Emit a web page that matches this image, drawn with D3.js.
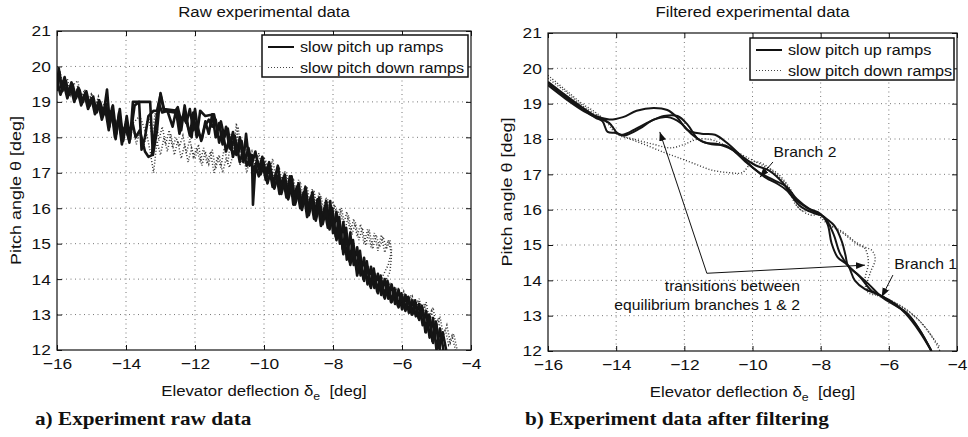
<!DOCTYPE html>
<html>
<head>
<meta charset="utf-8">
<script src="https://cdn.jsdelivr.net/npm/d3@7"></script>
<style>
  body { margin: 0; background: #fff; }
  text { font-family: "Liberation Sans", Arial, sans-serif; fill: #111; }
  text.caption { font-family: "Liberation Serif", "Times New Roman", serif; }
</style>
</head>
<body>
<div id="chart"></div>
<script>
const width = 968;
const height = 437;
const sx = 1.12; // the scanned figure's lettering is a bit wide

const xTicks = [-16, -14, -12, -10, -8, -6, -4];
const yTicks = [12, 13, 14, 15, 16, 17, 18, 19, 20, 21];
const legendLabels = ["slow pitch up ramps", "slow pitch down ramps"];

// raw experimental data, [elevator deflection, pitch angle]
const rawUp1 = [[-16,19.5],[-15.93,19.85],[-15.85,19.3],[-15.75,19.6],[-15.65,19.2],[-15.55,19.5],[-15.45,19.1],[-15.35,19.35],[-15.25,19.0],[-15.15,19.3],[-15.05,18.9],[-14.95,19.15],[-14.85,18.7],[-14.75,19.0],[-14.65,18.65],[-14.55,19.35],[-14.47,18.4],[-14.38,18.9],[-14.28,18.1],[-14.18,18.8],[-14.08,17.9],[-13.98,18.6],[-13.88,17.95],[-13.8,19.0],[-13.3,19.0],[-13.22,17.5],[-13.1,18.2],[-13.0,19.25],[-12.9,18.8],[-12.5,18.75],[-12.4,18.2],[-12.3,18.9],[-12.2,18.3],[-12.1,18.0],[-12.0,18.8],[-11.9,18.1],[-11.8,17.95],[-11.7,18.45],[-11.6,18.1],[-11.5,18.65],[-11.4,18.0],[-11.3,18.4],[-11.2,17.8],[-11.1,18.3],[-11.0,17.7],[-10.9,18.15],[-10.8,17.5],[-10.7,18.0],[-10.6,17.3],[-10.52,18.1],[-10.42,17.2],[-10.35,17.5],[-10.32,16.1],[-10.25,17.2],[-10.15,16.9],[-10.05,17.3],[-9.95,16.8],[-9.85,17.15],[-9.75,16.6],[-9.65,17.0],[-9.55,16.4],[-9.45,16.85],[-9.35,16.3],[-9.25,16.9],[-9.15,16.1],[-9.05,16.6],[-8.95,16.0],[-8.85,16.45],[-8.75,15.75],[-8.65,16.3],[-8.55,15.7],[-8.45,16.25],[-8.35,15.5],[-8.25,16.0],[-8.15,15.45],[-8.08,16.2],[-8.0,15.3],[-7.9,15.9],[-7.8,15.0],[-7.7,15.6],[-7.6,14.55],[-7.5,15.3],[-7.4,14.4],[-7.3,14.9],[-7.2,14.1],[-7.1,14.6],[-7.0,13.85],[-6.9,14.35],[-6.8,13.75],[-6.7,14.15],[-6.6,13.55],[-6.5,14.0],[-6.4,13.45],[-6.3,13.85],[-6.2,13.3],[-6.1,13.7],[-6.0,13.15],[-5.9,13.55],[-5.8,13.05],[-5.7,13.4],[-5.6,12.95],[-5.5,13.3],[-5.4,12.7],[-5.3,13.1],[-5.2,12.35],[-5.1,12.9],[-5.0,12.0],[-4.9,12.6],[-4.8,12.0]];
const rawUp2 = [[-16,19.3],[-15.95,19.95],[-15.88,19.4],[-15.78,19.7],[-15.68,19.25],[-15.58,19.55],[-15.48,19.15],[-15.38,19.4],[-15.28,18.95],[-15.18,19.25],[-15.08,18.85],[-14.98,19.1],[-14.88,18.75],[-14.78,19.05],[-14.68,18.6],[-14.58,18.95],[-14.48,18.3],[-14.4,18.85],[-14.3,17.95],[-14.2,18.7],[-14.1,18.1],[-14.0,18.4],[-13.9,17.85],[-13.75,18.9],[-13.62,19.0],[-13.55,17.65],[-13.45,18.0],[-13.35,18.6],[-13.2,18.75],[-13.1,18.75],[-13.0,19.2],[-12.9,18.75],[-12.6,18.7],[-12.5,18.85],[-12.4,18.45],[-12.3,18.7],[-12.15,18.05],[-12.05,18.7],[-11.95,18.0],[-11.85,18.75],[-11.7,18.6],[-11.45,18.65],[-11.35,18.2],[-11.25,18.45],[-11.15,18.0],[-11.05,18.25],[-10.95,17.65],[-10.85,18.05],[-10.75,17.55],[-10.65,17.9],[-10.55,17.35],[-10.45,17.7],[-10.35,17.25],[-10.25,17.6],[-10.15,17.1],[-10.05,17.45],[-9.95,17.0],[-9.85,17.3],[-9.72,16.7],[-9.6,17.2],[-9.5,16.55],[-9.4,16.95],[-9.3,16.4],[-9.2,16.9],[-9.1,16.25],[-9.0,16.7],[-8.9,16.1],[-8.8,16.6],[-8.7,15.95],[-8.6,16.45],[-8.5,15.8],[-8.4,16.3],[-8.3,15.65],[-8.2,16.2],[-8.1,15.55],[-8.02,16.0],[-7.92,15.2],[-7.82,15.75],[-7.72,14.85],[-7.62,15.45],[-7.52,14.5],[-7.42,15.1],[-7.32,14.3],[-7.22,14.8],[-7.12,14.0],[-7.02,14.5],[-6.92,13.8],[-6.82,14.3],[-6.72,13.65],[-6.62,14.1],[-6.52,13.5],[-6.42,13.95],[-6.32,13.35],[-6.22,13.75],[-6.12,13.25],[-6.02,13.6],[-5.92,13.15],[-5.82,13.5],[-5.72,13.0],[-5.62,13.4],[-5.52,12.9],[-5.42,13.25],[-5.32,12.5],[-5.22,13.0],[-5.12,12.25],[-5.02,12.8],[-4.92,12.05],[-4.82,12.5],[-4.72,12.0]];
const rawUp3 = [[-16,19.6],[-15.9,19.2],[-15.8,19.5],[-15.7,19.1],[-15.6,19.4],[-15.5,19.0],[-15.4,19.3],[-15.3,18.9],[-15.2,19.2],[-15.1,18.8],[-15.0,19.1],[-14.9,18.65],[-14.8,18.95],[-14.7,18.5],[-14.6,18.8],[-14.5,18.2],[-14.42,18.75],[-14.32,18.0],[-14.22,18.55],[-14.12,17.8],[-14.02,18.3],[-13.92,17.95],[-13.82,18.45],[-13.72,18.0],[-13.6,18.2],[-13.45,17.6],[-13.35,17.45],[-13.25,17.5],[-13.15,18.3],[-13.05,18.95],[-12.95,18.7],[-12.8,18.75],[-12.65,18.3],[-12.55,18.75],[-12.45,18.1],[-12.35,18.6],[-12.25,18.4],[-12.15,18.8],[-12.05,18.2],[-11.95,18.4],[-11.82,17.9],[-11.72,18.3],[-11.6,18.5],[-11.5,18.3],[-11.4,18.5],[-11.3,17.85],[-11.2,18.2],[-11.1,17.6],[-11.0,18.0],[-10.9,17.45],[-10.8,17.8],[-10.7,17.3],[-10.6,17.65],[-10.5,17.2],[-10.4,17.45],[-10.3,17.05],[-10.2,17.35],[-10.1,16.95],[-10.0,17.2],[-9.9,16.7],[-9.8,17.05],[-9.7,16.55],[-9.6,16.9],[-9.5,16.4],[-9.4,16.75],[-9.3,16.25],[-9.2,16.6],[-9.1,16.1],[-9.0,16.45],[-8.9,15.95],[-8.8,16.35],[-8.7,15.8],[-8.6,16.2],[-8.5,15.65],[-8.4,16.05],[-8.3,15.55],[-8.2,15.95],[-8.1,15.4],[-8.0,15.75],[-7.9,15.1],[-7.8,15.5],[-7.7,14.7],[-7.6,15.2],[-7.5,14.4],[-7.4,14.85],[-7.3,14.1],[-7.2,14.5],[-7.1,13.95],[-7.0,14.35],[-6.9,13.75],[-6.8,14.15],[-6.7,13.6],[-6.6,13.95],[-6.5,13.45],[-6.4,13.8],[-6.3,13.35],[-6.2,13.65],[-6.1,13.2],[-6.0,13.55],[-5.9,13.1],[-5.8,13.45],[-5.7,13.0],[-5.6,13.3],[-5.5,12.85],[-5.4,13.15],[-5.3,12.5],[-5.2,12.95],[-5.1,12.2],[-5.0,12.7],[-4.9,12.0]];
const rawDown1 = [[-16,19.7],[-15.9,19.3],[-15.8,19.6],[-15.7,19.2],[-15.6,19.5],[-15.5,19.1],[-15.4,19.45],[-15.3,19.0],[-15.2,19.3],[-15.1,18.9],[-15.0,19.2],[-14.9,18.8],[-14.8,19.1],[-14.7,18.7],[-14.6,19.0],[-14.5,18.5],[-14.4,18.9],[-14.3,18.3],[-14.2,18.6],[-14.1,18.0],[-14.0,18.4],[-13.9,17.9],[-13.8,18.3],[-13.7,17.8],[-13.6,18.2],[-13.5,17.7],[-13.4,18.1],[-13.3,17.6],[-13.2,17.0],[-13.1,17.9],[-13.0,17.5],[-12.9,18.0],[-12.8,17.6],[-12.7,18.1],[-12.6,17.5],[-12.5,17.9],[-12.4,17.4],[-12.3,17.8],[-12.2,17.3],[-12.1,17.7],[-12.0,17.4],[-11.9,17.8],[-11.8,17.2],[-11.7,17.6],[-11.6,17.25],[-11.5,17.65],[-11.4,17.1],[-11.3,17.5],[-11.2,17.0],[-11.1,17.4],[-11.0,17.15],[-10.9,17.5],[-10.8,18.4],[-10.7,17.2],[-10.6,17.5],[-10.5,17.0],[-10.4,17.45],[-10.3,17.1],[-10.2,17.5],[-10.1,17.0],[-10.0,17.45],[-9.9,17.0],[-9.8,17.3],[-9.7,16.8],[-9.6,17.2],[-9.5,16.7],[-9.4,17.05],[-9.3,16.55],[-9.2,16.9],[-9.1,16.4],[-9.0,16.8],[-8.9,16.3],[-8.8,16.65],[-8.7,16.1],[-8.6,16.55],[-8.5,16.0],[-8.4,16.45],[-8.3,15.9],[-8.2,16.3],[-8.1,15.8],[-8.0,16.2],[-7.9,15.7],[-7.8,16.0],[-7.7,15.5],[-7.6,15.9],[-7.5,15.3],[-7.4,15.7],[-7.3,15.2],[-7.2,15.55],[-7.1,15.0],[-7.0,15.4],[-6.9,14.9],[-6.8,15.3],[-6.7,14.8],[-6.6,15.25],[-6.5,14.75],[-6.4,15.1],[-6.3,14.7],[-6.35,14.2],[-6.5,13.9],[-6.45,13.6],[-6.3,13.8],[-6.2,13.4],[-6.1,13.75],[-6.0,13.3],[-5.9,13.6],[-5.8,13.2],[-5.7,13.5],[-5.6,13.1],[-5.5,13.45],[-5.4,13.0],[-5.3,13.35],[-5.2,12.8],[-5.1,13.2],[-5.0,12.6],[-4.9,12.95],[-4.8,12.4],[-4.7,12.7],[-4.6,12.2],[-4.5,12.45],[-4.4,12.0]];
const rawDown2 = [[-16,19.5],[-15.9,19.8],[-15.8,19.35],[-15.7,19.65],[-15.6,19.2],[-15.5,19.5],[-15.4,19.6],[-15.3,19.1],[-15.2,19.35],[-15.1,18.95],[-15.0,19.25],[-14.9,18.85],[-14.8,19.15],[-14.7,18.75],[-14.6,19.05],[-14.5,18.6],[-14.4,18.8],[-14.3,18.2],[-14.2,18.7],[-14.1,18.1],[-14.0,18.5],[-13.9,18.0],[-13.8,18.4],[-13.6,18.6],[-13.45,18.2],[-13.35,18.6],[-13.25,18.05],[-13.15,18.7],[-13.05,17.9],[-12.95,18.3],[-12.85,17.8],[-12.75,18.2],[-12.65,17.7],[-12.55,18.0],[-12.45,17.75],[-12.35,18.05],[-12.25,17.55],[-12.15,17.95],[-12.05,17.45],[-11.95,17.7],[-11.85,17.3],[-11.75,17.7],[-11.65,17.25],[-11.55,17.6],[-11.45,17.0],[-11.35,17.45],[-11.25,17.15],[-11.15,17.7],[-11.05,17.25],[-10.95,18.1],[-10.85,17.6],[-10.75,18.3],[-10.65,17.4],[-10.55,17.8],[-10.45,17.3],[-10.35,17.6],[-10.25,17.15],[-10.15,17.55],[-10.05,17.1],[-9.95,17.35],[-9.85,16.9],[-9.75,17.4],[-9.65,16.8],[-9.55,17.1],[-9.45,16.6],[-9.35,17.0],[-9.25,16.5],[-9.15,16.85],[-9.05,16.35],[-8.95,16.75],[-8.85,16.2],[-8.75,16.6],[-8.65,16.05],[-8.55,16.5],[-8.45,15.95],[-8.35,16.35],[-8.25,15.85],[-8.15,16.25],[-8.05,15.75],[-7.95,16.1],[-7.85,15.65],[-7.75,16.0],[-7.65,15.4],[-7.55,15.8],[-7.45,15.25],[-7.35,15.6],[-7.25,15.1],[-7.15,15.45],[-7.05,14.95],[-6.95,15.4],[-6.85,14.85],[-6.75,15.25],[-6.65,14.9],[-6.55,15.2],[-6.45,14.85],[-6.35,15.1],[-6.3,14.8],[-6.4,14.4],[-6.55,14.1],[-6.6,13.7],[-6.45,13.55],[-6.35,13.85],[-6.25,13.45],[-6.15,13.7],[-6.05,13.35],[-5.95,13.65],[-5.85,13.25],[-5.75,13.55],[-5.65,13.15],[-5.55,13.4],[-5.45,13.05],[-5.35,13.3],[-5.25,12.85],[-5.15,13.1],[-5.05,12.55],[-4.95,12.9],[-4.85,12.35],[-4.75,12.6],[-4.65,12.15],[-4.55,12.4],[-4.45,12.0]];

// filtered experimental data
const filtUp1 = [[-16,19.62],[-15.5,19.25],[-15,18.9],[-14.6,18.65],[-14.2,18.55],[-13.8,18.62],[-13.4,18.8],[-12.9,18.88],[-12.5,18.82],[-12.2,18.6],[-11.9,18.25],[-11.5,18.15],[-11.1,18.12],[-10.7,17.85],[-10.3,17.5],[-9.9,17.25],[-9.5,17.1],[-9.1,16.75],[-8.8,16.35],[-8.4,16.05],[-8.0,15.88],[-7.8,15.6],[-7.68,15.05],[-7.5,14.65],[-7.2,14.42],[-7.0,14.0],[-6.7,13.75],[-6.3,13.6],[-5.8,13.3],[-5.4,13.0],[-5.1,12.6],[-4.75,12.0]];
const filtUp2 = [[-16,19.58],[-15.5,19.2],[-15,18.85],[-14.6,18.6],[-14.4,18.5],[-14.25,18.2],[-14.0,18.17],[-13.8,18.12],[-13.4,18.3],[-13.0,18.5],[-12.6,18.65],[-12.2,18.65],[-11.9,18.4],[-11.6,18.0],[-11.2,17.85],[-10.8,17.82],[-10.4,17.55],[-10.0,17.2],[-9.6,16.9],[-9.3,16.75],[-9.0,16.55],[-8.6,16.1],[-8.2,15.9],[-7.9,15.8],[-7.62,15.3],[-7.45,14.8],[-7.2,14.42],[-6.85,14.1],[-6.5,13.7],[-6.2,13.55],[-5.8,13.32],[-5.5,13.05],[-5.1,12.55],[-4.75,12.0]];
const filtUp3 = [[-16,19.52],[-15.5,19.15],[-15,18.82],[-14.6,18.62],[-14.2,18.45],[-13.95,18.15],[-13.75,18.1],[-13.3,18.3],[-12.9,18.55],[-12.5,18.62],[-12.1,18.45],[-11.8,18.15],[-11.4,17.9],[-11.0,17.85],[-10.6,17.7],[-10.2,17.35],[-9.8,17.05],[-9.4,16.85],[-9.0,16.65],[-8.7,16.3],[-8.3,16.0],[-8.0,15.85],[-7.6,15.55],[-7.38,15.1],[-7.27,14.7],[-7.2,14.42],[-6.95,14.2],[-6.6,13.9],[-6.2,13.52],[-5.8,13.28],[-5.5,13.1],[-5.1,12.6],[-4.75,12.0]];
const filtDown1 = [[-16,19.8],[-15.5,19.4],[-15,19.0],[-14.6,18.75],[-14.3,18.5],[-14.0,18.15],[-13.6,18.0],[-13.1,17.82],[-12.6,17.62],[-12.2,17.48],[-11.7,17.3],[-11.2,17.12],[-10.7,17.05],[-10.3,17.05],[-10.0,17.35],[-9.7,17.3],[-9.3,17.0],[-9.0,16.7],[-8.7,16.1],[-8.3,15.85],[-8.0,15.85],[-7.7,15.55],[-7.3,15.3],[-6.9,15.0],[-6.5,14.85],[-6.4,14.6],[-6.55,14.2],[-6.65,13.8],[-6.4,13.6],[-6.0,13.45],[-5.6,13.25],[-5.2,12.95],[-4.8,12.5],[-4.5,12.1]];
const filtDown2 = [[-16,19.72],[-15.5,19.35],[-15,18.95],[-14.6,18.7],[-14.2,18.45],[-13.9,18.12],[-13.5,18.0],[-12.9,17.85],[-12.4,17.75],[-12.0,17.85],[-11.6,18.0],[-11.1,17.95],[-10.6,17.7],[-10.1,17.45],[-9.7,17.25],[-9.3,17.05],[-8.9,16.6],[-8.6,16.0],[-8.2,15.95],[-7.8,15.6],[-7.4,15.4],[-7.0,15.1],[-6.7,14.9],[-6.6,14.5],[-6.7,14.0],[-6.6,13.65],[-6.2,13.55],[-5.8,13.35],[-5.4,13.1],[-5.0,12.75],[-4.7,12.35],[-4.5,12.0]];

const svg = d3.select("#chart").append("svg")
  .attr("width", width)
  .attr("height", height);

svg.append("defs").append("marker")
  .attr("id", "arrow")
  .attr("markerUnits", "userSpaceOnUse")
  .attr("markerWidth", 10).attr("markerHeight", 8)
  .attr("refX", 9).attr("refY", 3.5)
  .attr("orient", "auto")
  .append("path")
  .attr("d", "M0,0 L9,3.5 L0,7 Z")
  .attr("fill", "#111");

// place a text at (x, y), stretched a little horizontally
function label(g, x, y, str, size, anchor) {
  return g.append("text")
    .attr("transform", `translate(${x},${y}) scale(${sx},1)`)
    .attr("font-size", size)
    .attr("text-anchor", anchor || "middle")
    .text(str);
}

function drawPanel(p) {
  const x = d3.scaleLinear().domain([-16, -4]).range([p.left, p.right]);
  const y = d3.scaleLinear().domain([12, 21]).range([p.bottom, p.top]);
  const g = svg.append("g");

  g.append("clipPath").attr("id", p.id + "-clip")
    .append("rect")
    .attr("x", p.left).attr("y", p.top)
    .attr("width", p.right - p.left).attr("height", p.bottom - p.top);

  // dotted grid
  g.append("g").selectAll("line").data(xTicks.slice(1, -1)).join("line")
    .attr("x1", d => x(d)).attr("x2", d => x(d))
    .attr("y1", p.top).attr("y2", p.bottom)
    .attr("stroke", "#777").attr("stroke-width", 1).attr("stroke-dasharray", "1,3.5");
  g.append("g").selectAll("line").data(yTicks.slice(1, -1)).join("line")
    .attr("y1", d => y(d)).attr("y2", d => y(d))
    .attr("x1", p.left).attr("x2", p.right)
    .attr("stroke", "#777").attr("stroke-width", 1).attr("stroke-dasharray", "1,3.5");

  const line = d3.line().x(d => x(d[0])).y(d => y(d[1])).curve(p.curve);
  const plot = g.append("g").attr("clip-path", `url(#${p.id}-clip)`);

  plot.selectAll("path.down").data(p.down).join("path")
    .attr("class", "down")
    .attr("d", line)
    .attr("fill", "none")
    .attr("stroke", "#333")
    .attr("stroke-width", p.dotWidth)
    .attr("stroke-dasharray", "1,2");

  plot.selectAll("path.up").data(p.up).join("path")
    .attr("class", "up")
    .attr("d", line)
    .attr("fill", "none")
    .attr("stroke", "#151515")
    .attr("stroke-width", p.upWidth)
    .attr("stroke-linejoin", "round");

  // axes with inward ticks on all four sides
  const bottom = g.append("g")
    .attr("transform", `translate(0,${p.bottom})`)
    .call(d3.axisBottom(x).tickValues(xTicks).tickSizeInner(-5).tickSizeOuter(0).tickPadding(8));
  g.append("g")
    .attr("transform", `translate(0,${p.top})`)
    .call(d3.axisTop(x).tickValues(xTicks).tickSizeInner(-5).tickSizeOuter(0).tickFormat(""));
  const left = g.append("g")
    .attr("transform", `translate(${p.left},0)`)
    .call(d3.axisLeft(y).tickValues(yTicks).tickSizeInner(-5).tickSizeOuter(0).tickPadding(5.5));
  g.append("g")
    .attr("transform", `translate(${p.right},0)`)
    .call(d3.axisRight(y).tickValues(yTicks).tickSizeInner(-5).tickSizeOuter(0).tickFormat(""));
  g.selectAll(".domain").remove();
  g.selectAll(".tick line").attr("stroke", "#111");
  [bottom, left].forEach(a => a.attr("font-size", 15.5)
    .selectAll("text").attr("fill", "#111").attr("transform", `scale(${sx},1)`));

  g.append("rect")
    .attr("x", p.left).attr("y", p.top)
    .attr("width", p.right - p.left).attr("height", p.bottom - p.top)
    .attr("fill", "none").attr("stroke", "#111").attr("stroke-width", 1.2);

  // titles and axis labels
  const cx = (p.left + p.right) / 2;
  label(g, cx, 17, p.title, 15);
  const xl = g.append("text")
    .attr("transform", `translate(${cx},${p.bottom + 46}) scale(${sx},1)`)
    .attr("font-size", 15).attr("text-anchor", "middle");
  xl.append("tspan").text("Elevator deflection δ");
  xl.append("tspan").attr("font-size", 11).attr("dy", 4).text("e");
  xl.append("tspan").attr("dy", -4).text("\u00a0\u00a0[deg]");
  label(g, 0, 0, "Pitch angle θ [deg]", 15)
    .attr("transform", `translate(${p.left - 36},${(p.top + p.bottom) / 2}) rotate(-90) scale(${sx + 0.08},1)`);

  // legend
  const lg = g.append("g");
  lg.append("rect")
    .attr("x", p.legend.x).attr("y", p.legend.y)
    .attr("width", p.legend.w).attr("height", p.legend.h)
    .attr("fill", "#fff").attr("stroke", "#111").attr("stroke-width", 1.5);
  legendLabels.forEach((t, i) => {
    const ly = p.legend.y + 12 + i * 20.5;
    lg.append("line")
      .attr("x1", p.legend.x + 6).attr("x2", p.legend.x + 32)
      .attr("y1", ly).attr("y2", ly)
      .attr("stroke", i === 0 ? "#111" : "#444")
      .attr("stroke-width", i === 0 ? 2 : 1.2)
      .attr("stroke-dasharray", i === 0 ? null : "1,2");
    label(lg, p.legend.x + 38, ly + 5, t, 14.5, "start");
  });

  return { g, x, y };
}

drawPanel({
  id: "raw", left: 57, right: 471, top: 31, bottom: 350,
  title: "Raw experimental data",
  up: [rawUp1, rawUp2, rawUp3], down: [rawDown1, rawDown2],
  curve: d3.curveLinear, upWidth: 2.6, dotWidth: 1.5,
  legend: { x: 262, y: 35, w: 206, h: 42 }
});

const fp = drawPanel({
  id: "filt", left: 548, right: 957, top: 33, bottom: 351,
  title: "Filtered experimental data",
  up: [filtUp1, filtUp2, filtUp3], down: [filtDown1, filtDown2],
  curve: d3.curveCatmullRom.alpha(0.5), upWidth: 2, dotWidth: 1.4,
  legend: { x: 750, y: 38, w: 204, h: 42 }
});

// annotations on the filtered panel
const ann = fp.g.append("g");
function arrow(from, to) {
  ann.append("line")
    .attr("x1", fp.x(from[0])).attr("y1", fp.y(from[1]))
    .attr("x2", fp.x(to[0])).attr("y2", fp.y(to[1]))
    .attr("stroke", "#111").attr("stroke-width", 1)
    .attr("marker-end", "url(#arrow)");
}
label(ann, fp.x(-8.46), fp.y(17.49), "Branch 2", 14);
arrow([-9.4, 17.35], [-9.78, 16.92]);
label(ann, fp.x(-4.92), fp.y(14.32), "Branch 1", 14);
arrow([-5.88, 14.15], [-6.21, 13.53]);
label(ann, fp.x(-8.61), fp.y(13.7), "transitions between", 14, "end");
label(ann, fp.x(-8.61), fp.y(13.16), "equilibrium branches 1 & 2", 14, "end");
arrow([-11.34, 14.2], [-12.72, 18.2]);
arrow([-11.34, 14.2], [-6.7, 14.43]);

// captions
svg.selectAll("text.caption")
  .data([["a) Experiment raw data", 35], ["b) Experiment data after filtering", 525]])
  .join("text")
  .attr("class", "caption")
  .attr("transform", d => `translate(${d[1]},425) scale(1.18,1)`)
  .attr("font-weight", "bold")
  .attr("font-size", 18)
  .text(d => d[0]);
</script>
</body>
</html>
